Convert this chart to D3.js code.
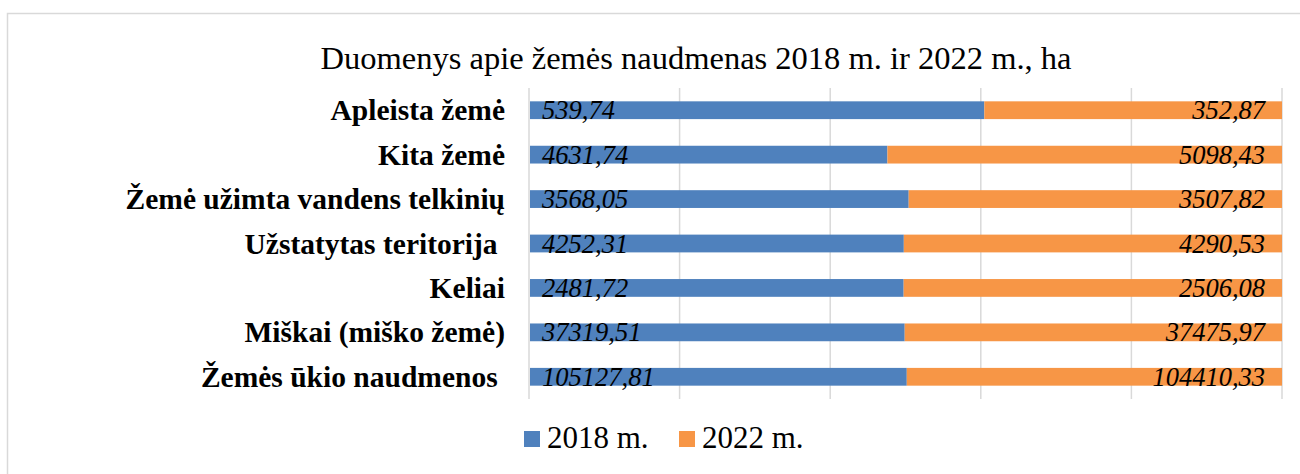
<!DOCTYPE html>
<html>
<head>
<meta charset="utf-8">
<script src="https://cdn.jsdelivr.net/npm/d3@7/dist/d3.min.js"></script>
<style>
  html, body { margin: 0; padding: 0; background: #fff; }
</style>
</head>
<body>
<div id="chart"></div>
<script>
const categories = [
  'Apleista žemė',
  'Kita žemė',
  'Žemė užimta vandens telkinių',
  'Užstatytas teritorija ',
  'Keliai',
  'Miškai (miško žemė)',
  'Žemės ūkio naudmenos '
];
const values2018 = [539.74, 4631.74, 3568.05, 4252.31, 2481.72, 37319.51, 105127.81];
const values2022 = [352.87, 5098.43, 3507.82, 4290.53, 2506.08, 37475.97, 104410.33];
const seriesNames = ['2018 m.', '2022 m.'];
const percentTicks = [0, 0.2, 0.4, 0.6, 0.8, 1];

const width = 1300, height = 474;
const margin = { top: 88, right: 18, bottom: 75, left: 529 };
const colors = ['#4f81bd', '#f79646'];
const FONT = 'Liberation Serif';

const locale = d3.formatLocale({ decimal: ',', thousands: '', grouping: [3], currency: ['', ''] });
const fmt = locale.format('.2f');

const rows = categories.map((c, i) => {
  const total = values2018[i] + values2022[i];
  return { category: c, v1: values2018[i], v2: values2022[i], p1: values2018[i] / total };
});

const svg = d3.select('#chart').append('svg')
  .attr('width', width)
  .attr('height', height);

// chart frame
svg.append('rect')
  .attr('x', 7.5).attr('y', 13.5)
  .attr('width', width).attr('height', height)
  .attr('fill', 'none')
  .attr('stroke', '#d9d9d9')
  .attr('stroke-width', 1.5);

const x = d3.scaleLinear().domain([0, 1]).range([margin.left, width - margin.right]);
const y = d3.scaleBand().domain(categories)
  .range([margin.top, height - margin.bottom])
  .paddingInner(0.6).paddingOuter(0.3);

// gridlines
svg.selectAll('.grid')
  .data(percentTicks)
  .join('line')
  .attr('class', 'grid')
  .attr('x1', d => x(d)).attr('x2', d => x(d))
  .attr('y1', margin.top).attr('y2', height - margin.bottom)
  .attr('stroke', '#d9d9d9')
  .attr('stroke-width', 1.5);

// bars
svg.selectAll('.b1')
  .data(rows)
  .join('rect')
  .attr('class', 'b1')
  .attr('x', x(0) + 1)
  .attr('y', d => y(d.category))
  .attr('width', d => x(d.p1) - x(0) - 1)
  .attr('height', y.bandwidth())
  .attr('fill', colors[0]);

svg.selectAll('.b2')
  .data(rows)
  .join('rect')
  .attr('class', 'b2')
  .attr('x', d => x(d.p1))
  .attr('y', d => y(d.category))
  .attr('width', d => x(1) - x(d.p1))
  .attr('height', y.bandwidth())
  .attr('fill', colors[1]);

// value labels + category labels
rows.forEach(d => {
  const cy = y(d.category) + y.bandwidth() / 2;
  svg.append('text')
    .attr('x', x(0) + 13)
    .attr('y', cy)
    .attr('dy', '0.34em')
    .attr('font-family', FONT)
    .attr('font-size', 26.5)
    .attr('font-style', 'italic')
    .text(fmt(d.v1));
  svg.append('text')
    .attr('x', x(1) - 17)
    .attr('y', cy)
    .attr('dy', '0.34em')
    .attr('text-anchor', 'end')
    .attr('font-family', FONT)
    .attr('font-size', 26.5)
    .attr('font-style', 'italic')
    .text(fmt(d.v2));
  svg.append('text')
    .attr('x', 505)
    .attr('y', cy)
    .attr('dy', '0.34em')
    .attr('text-anchor', 'end')
    .attr('font-family', FONT)
    .attr('font-size', 29.5)
    .attr('font-weight', 'bold')
    .style('white-space', 'pre')
    .text(d.category);
});

// title
svg.append('text')
  .attr('x', 696)
  .attr('y', 69)
  .attr('text-anchor', 'middle')
  .attr('font-family', FONT)
  .attr('font-size', 32.5)
  .text('Duomenys apie žemės naudmenas 2018 m. ir 2022 m., ha');

// legend
const legendX = [524, 679];
seriesNames.forEach((name, i) => {
  svg.append('rect')
    .attr('x', legendX[i]).attr('y', 431)
    .attr('width', 16).attr('height', 16)
    .attr('fill', colors[i]);
  svg.append('text')
    .attr('x', legendX[i] + 23)
    .attr('y', 448)
    .attr('font-family', FONT)
    .attr('font-size', 31)
    .text(name);
});
</script>
</body>
</html>
